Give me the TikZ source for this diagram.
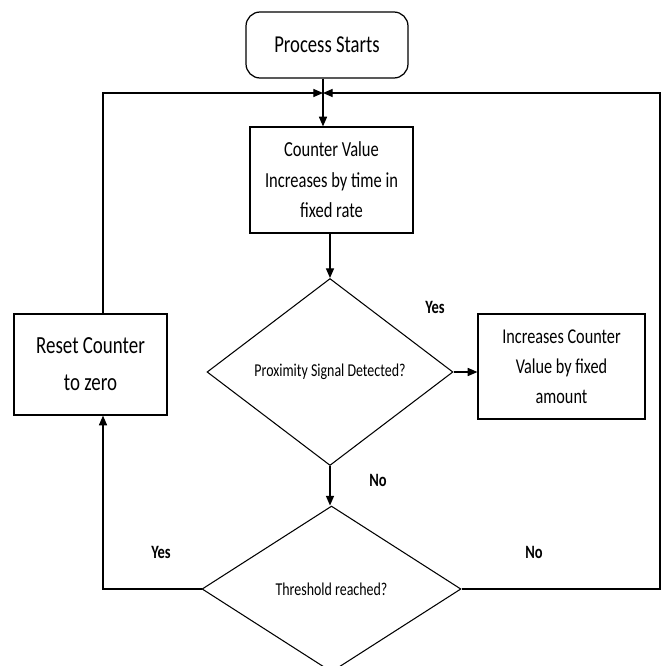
\documentclass[tikz,border=0pt]{standalone}
\usepackage{fontspec}
\setmainfont{Carlito}[FakeStretch=0.77]
\usetikzlibrary{shapes.geometric}
\usetikzlibrary{arrows.meta}

\tikzset{
  box/.style={draw, line width=0.7pt, align=center, inner sep=0pt},
  decision/.style={draw, diamond, line width=0.6pt, inner sep=0pt, align=center,
    font=\fontsize{10.3}{12}\selectfont},
  flow/.style={line width=0.7pt, -{Triangle[length=5.5pt,width=4.6pt]}},
  answer/.style={font=\fontsize{10.7}{12}\selectfont\bfseries}
}

\begin{document}
\begin{tikzpicture}[x=0.02cm, y=-0.02cm]
            \useasboundingbox (0,0) rectangle (665,666);

            \coordinate (j) at (323,93);
            \coordinate (lft) at (103,93);
            \coordinate (rgt) at (660,93);

            \node[box, rounded corners=8pt, minimum width=3.24cm, minimum height=1.32cm,
              font=\fontsize{13.8}{15}\selectfont] (start) at (327,45) {Process Starts};
            \node[box, minimum width=3.26cm, minimum height=2.12cm,
              font=\fontsize{12.2}{17.3}\selectfont] (count) at (331.5,180)
              {Counter Value\\Increases by time in\\fixed rate};
            \node[decision, minimum width=4.92cm, minimum height=3.74cm] (prox) at (330,372)
              {Proximity Signal Detected?};
            \node[box, minimum width=3.34cm, minimum height=2.10cm,
              font=\fontsize{12}{17.2}\selectfont] (inc) at (561.5,366.5)
              {Increases Counter\\Value by fixed\\amount};
            \node[decision, minimum width=5.18cm, minimum height=3.32cm] (thr) at (331.5,589)
              {Threshold reached?};
            \node[box, minimum width=3.06cm, minimum height=2.02cm,
              font=\fontsize{14}{21}\selectfont] (reset) at (90.5,364.5)
              {Reset Counter\\to zero};

            \draw[flow] (start.south -| j) -- (j) -- (count.north -| j);
            \draw[flow] (count.south -| prox.north) -- (prox.north);
            \draw[flow] (prox.east) -- (prox.east -| inc.west);
            \draw[flow] (prox.south) -- (prox.south |- thr.north);
            \draw[flow] (thr.east) -| (rgt) -- (j);
            \draw[flow] (thr.west) -| (reset.south -| lft);
            \draw[flow] (reset.north -| lft) -- (lft) -- (j);

            \node[answer] (yes1) at (435,307) {Yes};
            \node[answer] (no1) at (378,480) {No};
            \node[answer] (no2) at (534,552) {No};
            \node[answer] (yes2) at (161,552) {Yes};

        \end{tikzpicture}
\end{document}
